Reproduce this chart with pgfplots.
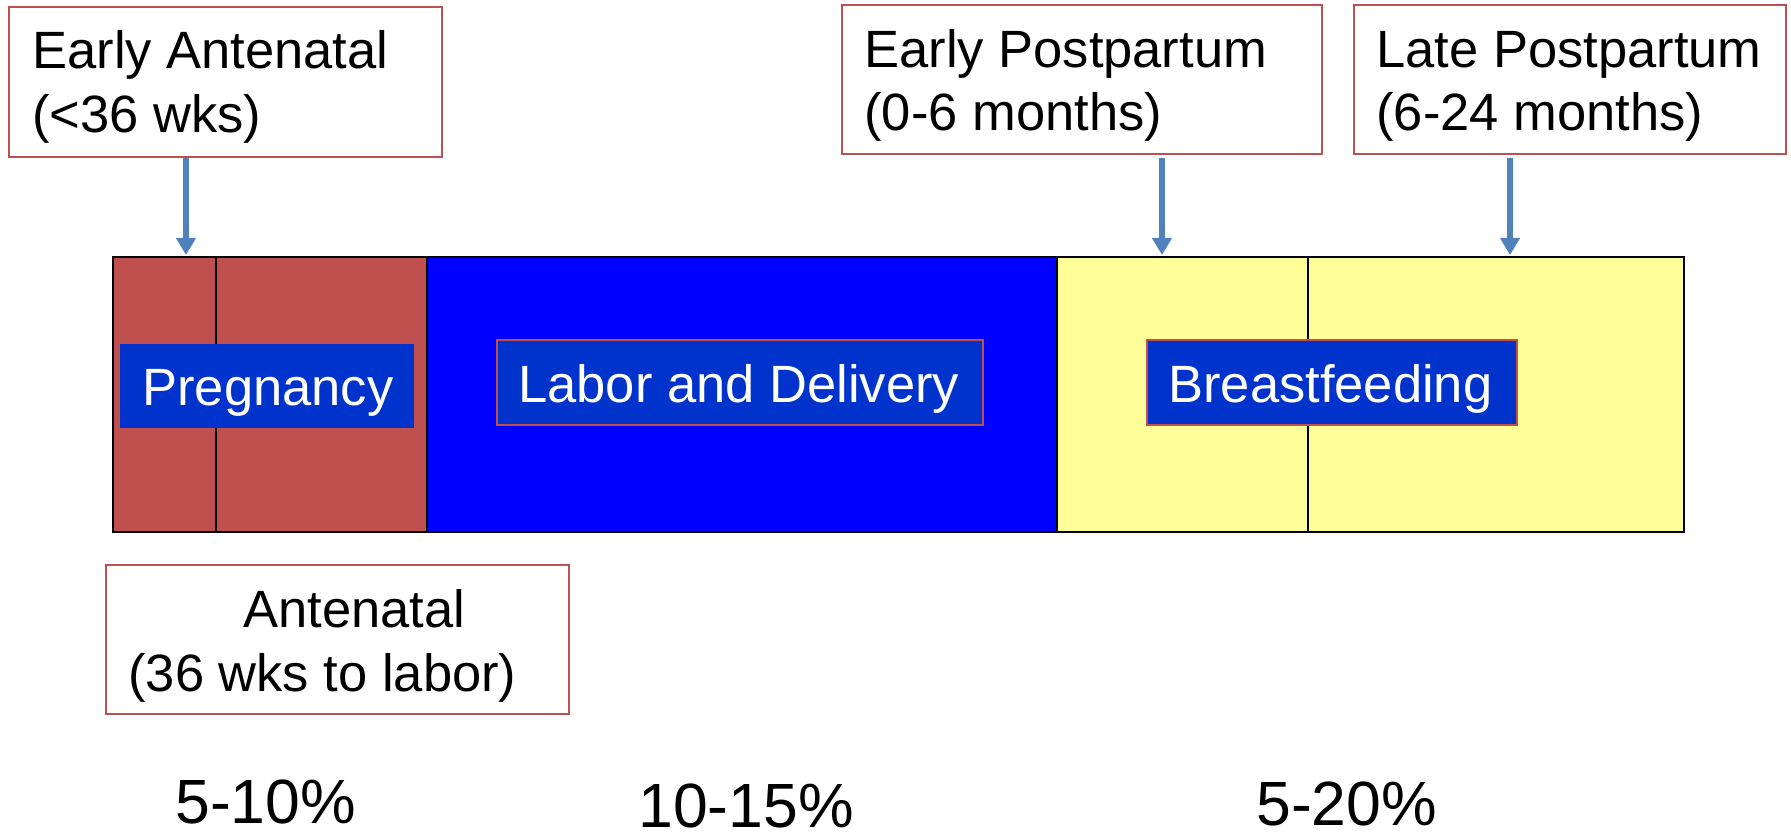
\documentclass[border=0pt]{standalone}
\usepackage{pgfplots}
\pgfplotsset{compat=1.18}
\usepackage{fontspec}
\setmainfont{Liberation Sans}
\usetikzlibrary{arrows.meta}
\definecolor{segred}{HTML}{C0504D}
\definecolor{segblue}{HTML}{0000FF}
\definecolor{segyellow}{HTML}{FFFF99}
\definecolor{labelblue}{HTML}{0033CC}
\definecolor{boxred}{HTML}{C0504D}
\definecolor{arrowblue}{HTML}{4F81BD}
\newcommand\lab{\fontsize{26.25}{32}\selectfont}
\newcommand\pct{\fontsize{31.25}{36}\selectfont}
\begin{document}
\begin{tikzpicture}
\path[use as bounding box] (0,0) rectangle (895.5pt,419.5pt);
\begin{axis}[
  at={(0,0)}, anchor=south west,
  width=895.5pt, height=419.5pt, scale only axis,
  xmin=0, xmax=1791, ymin=0, ymax=839, y dir=reverse,
  hide axis, clip=false,
  every axis plot/.append style={mark=none},
]
% --- timeline bar segments ---
\addplot[fill=segred, draw=black, line width=1.3pt] coordinates {(113,257) (427,257) (427,532) (113,532)} -- cycle;
\addplot[fill=segblue, draw=black, line width=1.3pt] coordinates {(427,257) (1057,257) (1057,532) (427,532)} -- cycle;
\addplot[fill=segyellow, draw=black, line width=1.3pt] coordinates {(1057,257) (1684,257) (1684,532) (1057,532)} -- cycle;
\addplot[black, line width=1.4pt] coordinates {(216,257) (216,532)};
\addplot[black, line width=1.4pt] coordinates {(1308,257) (1308,532)};
% --- inner label boxes ---
\addplot[fill=labelblue, draw=labelblue, line width=0.5pt] coordinates {(120,344) (413,344) (413,427) (120,427)} -- cycle;
\addplot[fill=labelblue, draw=boxred, line width=1pt] coordinates {(497,340) (983,340) (983,425) (497,425)} -- cycle;
\addplot[fill=labelblue, draw=boxred, line width=1pt] coordinates {(1147,340) (1517,340) (1517,425) (1147,425)} -- cycle;
% --- callout boxes ---
\addplot[fill=white, draw=boxred, line width=1pt] coordinates {(9,7) (442,7) (442,157) (9,157)} -- cycle;
\addplot[fill=white, draw=boxred, line width=1pt] coordinates {(842,5) (1322,5) (1322,154) (842,154)} -- cycle;
\addplot[fill=white, draw=boxred, line width=1pt] coordinates {(1354,5) (1786,5) (1786,154) (1354,154)} -- cycle;
\addplot[fill=white, draw=boxred, line width=1pt] coordinates {(106,565) (569,565) (569,714) (106,714)} -- cycle;
% --- arrows ---
\addplot[arrowblue, line width=3pt, -{Triangle[width=9.5pt,length=8.5pt]}] coordinates {(186,158) (186,255)};
\addplot[arrowblue, line width=3pt, -{Triangle[width=9.5pt,length=8.5pt]}] coordinates {(1162,158) (1162,255)};
\addplot[arrowblue, line width=3pt, -{Triangle[width=9.5pt,length=8.5pt]}] coordinates {(1510,158) (1510,255)};
% --- texts ---
\node[anchor=base west, inner sep=0pt] at (axis cs:32,69) {\lab Early Antenatal};
\node[anchor=base west, inner sep=0pt] at (axis cs:32,133) {\lab (<36 wks)};
\node[anchor=base west, inner sep=0pt] at (axis cs:864,68) {\lab Early Postpartum};
\node[anchor=base west, inner sep=0pt] at (axis cs:864,131) {\lab (0-6 months)};
\node[anchor=base west, inner sep=0pt] at (axis cs:1376,68) {\lab Late Postpartum};
\node[anchor=base west, inner sep=0pt] at (axis cs:1376,131) {\lab (6-24 months)};
\node[anchor=base west, inner sep=0pt] at (axis cs:243,627) {\lab Antenatal};
\node[anchor=base west, inner sep=0pt] at (axis cs:128,691) {\lab (36 wks to labor)};
\node[anchor=base west, inner sep=0pt, text=white] at (axis cs:142,405) {\lab Pregnancy};
\node[anchor=base west, inner sep=0pt, text=white] at (axis cs:518,402) {\lab Labor and Delivery};
\node[anchor=base west, inner sep=0pt, text=white] at (axis cs:1168,402) {\lab Breastfeeding};
\node[anchor=base west, inner sep=0pt] at (axis cs:175,823) {\pct 5-10\%};
\node[anchor=base west, inner sep=0pt] at (axis cs:638,827) {\pct 10-15\%};
\node[anchor=base west, inner sep=0pt] at (axis cs:1256,825) {\pct 5-20\%};
\end{axis}
\end{tikzpicture}
\end{document}
